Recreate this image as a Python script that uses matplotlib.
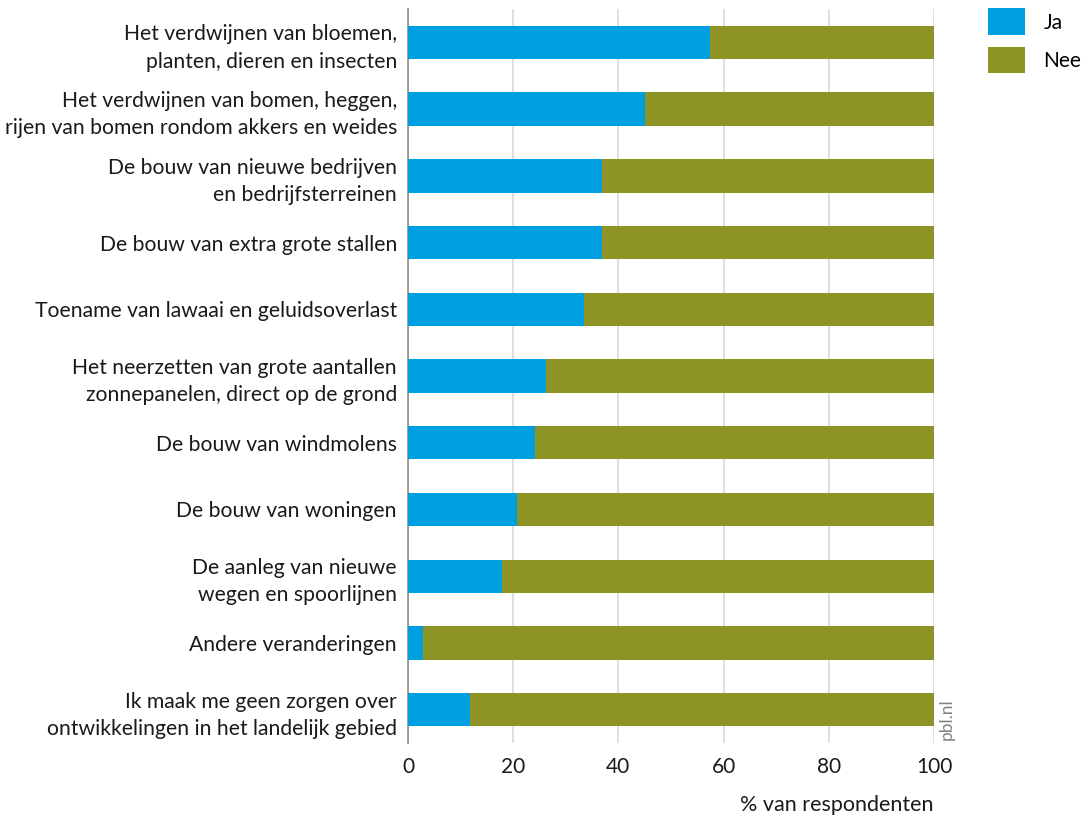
import matplotlib
matplotlib.use("Agg")
import matplotlib.pyplot as plt
from matplotlib.patches import Patch

categories = [
    "Het verdwijnen van bloemen,\nplanten, dieren en insecten",
    "Het verdwijnen van bomen, heggen,\nrijen van bomen rondom akkers en weides",
    "De bouw van nieuwe bedrijven\nen bedrijfsterreinen",
    "De bouw van extra grote stallen",
    "Toename van lawaai en geluidsoverlast",
    "Het neerzetten van grote aantallen\nzonnepanelen, direct op de grond",
    "De bouw van windmolens",
    "De bouw van woningen",
    "De aanleg van nieuwe\nwegen en spoorlijnen",
    "Andere veranderingen",
    "Ik maak me geen zorgen over\nontwikkelingen in het landelijk gebied",
]
ja = [57.5, 45.1, 36.9, 36.8, 33.4, 26.2, 24.1, 20.8, 17.8, 2.9, 11.7]
nee = [100 - v for v in ja]
series_names = ["Ja", "Nee"]
xticks = [0, 20, 40, 60, 80, 100]

BLUE = "#009FDF"
OLIVE = "#8E9325"
TXT = "#1a1a1a"

plt.rcParams['font.family'] = ['Lato', 'DejaVu Sans']

fig = plt.figure(figsize=(10.83, 8.16), dpi=100)
ax = fig.add_axes([408/1083, 1 - 743/816, (934-408)/1083, (743-9)/816])

y = list(range(len(categories)))
ax.barh(y, ja, height=0.5, color=BLUE, label=series_names[0], zorder=3)
ax.barh(y, nee, left=ja, height=0.5, color=OLIVE, label=series_names[1], zorder=3)

ax.set_ylim(10.5, -0.5)
ax.set_xlim(0, 100)
ax.set_yticks(y)
ax.set_yticklabels(categories, fontsize=15.2, color=TXT, linespacing=1.45)
ax.set_xticks(xticks)
ax.set_xticklabels([str(t) for t in xticks], fontsize=15, color=TXT)
ax.tick_params(axis='y', length=0, pad=8)
ax.tick_params(axis='x', length=0, pad=10)
for lbl in ax.get_yticklabels():
    lbl.set_horizontalalignment('right')
    lbl.set_multialignment('right')

ax.grid(axis='x', color='#d9d9d9', linewidth=1.2, zorder=0)
for s in ['top', 'right', 'bottom']:
    ax.spines[s].set_visible(False)
ax.spines['left'].set_color('#8c8c8c')
ax.spines['left'].set_linewidth(1.2)

fig.text(934/1083, 1 - 805/816, "% van respondenten", ha='right', va='center',
         fontsize=15.5, color=TXT)
fig.text(947/1083, 1 - 740/816, "pbl.nl", rotation=90, ha='center', va='bottom',
         fontsize=12.5, color='#808080')

handles = [Patch(facecolor=BLUE, label=series_names[0]),
           Patch(facecolor=OLIVE, label=series_names[1])]
fig.legend(handles=handles, loc='upper left', bbox_to_anchor=(980/1083, 1 - 0/816),
           frameon=False, fontsize=15, handlelength=1.75, handleheight=1.6,
           labelspacing=0.55, handletextpad=0.9, borderaxespad=0.0)

fig.savefig("out.png", dpi=100)
